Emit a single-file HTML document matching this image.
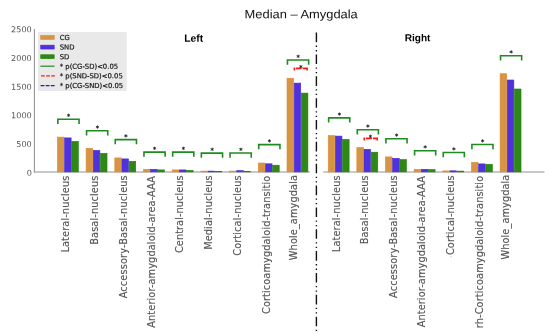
<!DOCTYPE html>
<html lang="en"><head><meta charset="utf-8"><title>Median – Amygdala</title>
<style>html,body{margin:0;padding:0;background:#fff}body{width:550px;height:334px;overflow:hidden}svg{display:block}text{white-space:pre}</style>
</head><body>
<svg width="550" height="334" viewBox="0 0 550 334">
<rect width="550" height="334" fill="#fff"/>
<text x="244.6" y="18.3" transform="rotate(0.03 244.6 18.3)" textLength="113.2" lengthAdjust="spacingAndGlyphs" font-family='"Liberation Sans","DejaVu Sans",sans-serif' font-size="12" fill="#111">Median – Amygdala</text>
<text x="193.7" y="41.7" transform="rotate(0.03 193.7 41.7)" text-anchor="middle" font-family='"Liberation Sans","DejaVu Sans",sans-serif' font-size="10.4" font-weight="bold" fill="#000">Left</text>
<text x="417.6" y="41.35" transform="rotate(0.03 417.6 41.35)" text-anchor="middle" font-family='"Liberation Sans","DejaVu Sans",sans-serif' font-size="10.1" font-weight="bold" fill="#000">Right</text>
<path d="M34.4 28.9V172.4" stroke="#929292" stroke-width="1.05" fill="none"/>
<path d="M33.9 171.9H309.8M323.3 171.9H544.5" stroke="#929292" stroke-width="1.05" fill="none"/>
<rect x="57.40" y="137.10" width="6.57" height="34.80" fill="#D79444" stroke="#DC8C30" stroke-width="0.6"/>
<rect x="64.57" y="137.90" width="6.57" height="34.00" fill="#5032DC" stroke="#4628D8" stroke-width="0.6"/>
<rect x="71.74" y="141.40" width="6.57" height="30.50" fill="#2E8716" stroke="#1E8208" stroke-width="0.6"/>
<rect x="86.10" y="148.30" width="6.57" height="23.60" fill="#D79444" stroke="#DC8C30" stroke-width="0.6"/>
<rect x="93.27" y="150.40" width="6.57" height="21.50" fill="#5032DC" stroke="#4628D8" stroke-width="0.6"/>
<rect x="100.44" y="153.30" width="6.57" height="18.60" fill="#2E8716" stroke="#1E8208" stroke-width="0.6"/>
<rect x="114.80" y="157.90" width="6.57" height="14.00" fill="#D79444" stroke="#DC8C30" stroke-width="0.6"/>
<rect x="121.97" y="158.90" width="6.57" height="13.00" fill="#5032DC" stroke="#4628D8" stroke-width="0.6"/>
<rect x="129.14" y="161.30" width="6.57" height="10.60" fill="#2E8716" stroke="#1E8208" stroke-width="0.6"/>
<rect x="143.50" y="169.30" width="6.57" height="2.60" fill="#D79444" stroke="#DC8C30" stroke-width="0.6"/>
<rect x="150.67" y="169.30" width="6.57" height="2.60" fill="#5032DC" stroke="#4628D8" stroke-width="0.6"/>
<rect x="157.84" y="169.90" width="6.57" height="2.00" fill="#2E8716" stroke="#1E8208" stroke-width="0.6"/>
<rect x="172.20" y="169.90" width="6.57" height="2.00" fill="#D79444" stroke="#DC8C30" stroke-width="0.6"/>
<rect x="179.37" y="169.90" width="6.57" height="2.00" fill="#5032DC" stroke="#4628D8" stroke-width="0.6"/>
<rect x="186.54" y="170.40" width="6.57" height="1.50" fill="#2E8716" stroke="#1E8208" stroke-width="0.6"/>
<rect x="200.90" y="171.10" width="6.57" height="0.80" fill="#D79444" stroke="#DC8C30" stroke-width="0.6"/>
<rect x="208.07" y="171.10" width="6.57" height="0.80" fill="#5032DC" stroke="#4628D8" stroke-width="0.6"/>
<rect x="215.24" y="171.30" width="6.57" height="0.60" fill="#2E8716" stroke="#1E8208" stroke-width="0.6"/>
<rect x="229.60" y="171.10" width="6.57" height="0.80" fill="#D79444" stroke="#DC8C30" stroke-width="0.6"/>
<rect x="236.77" y="170.60" width="6.57" height="1.30" fill="#5032DC" stroke="#4628D8" stroke-width="0.6"/>
<rect x="243.94" y="171.30" width="6.57" height="0.60" fill="#2E8716" stroke="#1E8208" stroke-width="0.6"/>
<rect x="258.30" y="163.00" width="6.57" height="8.90" fill="#D79444" stroke="#DC8C30" stroke-width="0.6"/>
<rect x="265.47" y="163.80" width="6.57" height="8.10" fill="#5032DC" stroke="#4628D8" stroke-width="0.6"/>
<rect x="272.64" y="165.20" width="6.57" height="6.70" fill="#2E8716" stroke="#1E8208" stroke-width="0.6"/>
<rect x="287.00" y="78.20" width="6.57" height="93.70" fill="#D79444" stroke="#DC8C30" stroke-width="0.6"/>
<rect x="294.17" y="83.10" width="6.57" height="88.80" fill="#5032DC" stroke="#4628D8" stroke-width="0.6"/>
<rect x="301.34" y="93.10" width="6.57" height="78.80" fill="#2E8716" stroke="#1E8208" stroke-width="0.6"/>
<rect x="328.20" y="135.60" width="6.57" height="36.30" fill="#D79444" stroke="#DC8C30" stroke-width="0.6"/>
<rect x="335.37" y="136.10" width="6.57" height="35.80" fill="#5032DC" stroke="#4628D8" stroke-width="0.6"/>
<rect x="342.54" y="139.40" width="6.57" height="32.50" fill="#2E8716" stroke="#1E8208" stroke-width="0.6"/>
<rect x="356.85" y="147.50" width="6.57" height="24.40" fill="#D79444" stroke="#DC8C30" stroke-width="0.6"/>
<rect x="364.02" y="149.30" width="6.57" height="22.60" fill="#5032DC" stroke="#4628D8" stroke-width="0.6"/>
<rect x="371.19" y="152.20" width="6.57" height="19.70" fill="#2E8716" stroke="#1E8208" stroke-width="0.6"/>
<rect x="385.50" y="156.90" width="6.57" height="15.00" fill="#D79444" stroke="#DC8C30" stroke-width="0.6"/>
<rect x="392.67" y="158.30" width="6.57" height="13.60" fill="#5032DC" stroke="#4628D8" stroke-width="0.6"/>
<rect x="399.84" y="159.60" width="6.57" height="12.30" fill="#2E8716" stroke="#1E8208" stroke-width="0.6"/>
<rect x="414.15" y="169.30" width="6.57" height="2.60" fill="#D79444" stroke="#DC8C30" stroke-width="0.6"/>
<rect x="421.32" y="169.30" width="6.57" height="2.60" fill="#5032DC" stroke="#4628D8" stroke-width="0.6"/>
<rect x="428.49" y="169.60" width="6.57" height="2.30" fill="#2E8716" stroke="#1E8208" stroke-width="0.6"/>
<rect x="442.80" y="170.90" width="6.57" height="1.00" fill="#D79444" stroke="#DC8C30" stroke-width="0.6"/>
<rect x="449.97" y="170.80" width="6.57" height="1.10" fill="#5032DC" stroke="#4628D8" stroke-width="0.6"/>
<rect x="457.14" y="171.10" width="6.57" height="0.80" fill="#2E8716" stroke="#1E8208" stroke-width="0.6"/>
<rect x="471.45" y="162.30" width="6.57" height="9.60" fill="#D79444" stroke="#DC8C30" stroke-width="0.6"/>
<rect x="478.62" y="163.90" width="6.57" height="8.00" fill="#5032DC" stroke="#4628D8" stroke-width="0.6"/>
<rect x="485.79" y="164.30" width="6.57" height="7.60" fill="#2E8716" stroke="#1E8208" stroke-width="0.6"/>
<rect x="500.10" y="73.70" width="6.57" height="98.20" fill="#D79444" stroke="#DC8C30" stroke-width="0.6"/>
<rect x="507.27" y="80.00" width="6.57" height="91.90" fill="#5032DC" stroke="#4628D8" stroke-width="0.6"/>
<rect x="514.44" y="89.00" width="6.57" height="82.90" fill="#2E8716" stroke="#1E8208" stroke-width="0.6"/>
<text x="31.8" y="175.70" transform="rotate(0.03 31.8 175.70)" text-anchor="end" font-family='"DejaVu Sans","Liberation Sans",sans-serif' font-size="8.15" fill="#555555">0</text>
<text x="31.8" y="147.10" transform="rotate(0.03 31.8 147.10)" text-anchor="end" font-family='"DejaVu Sans","Liberation Sans",sans-serif' font-size="8.15" fill="#555555">500</text>
<text x="31.8" y="118.30" transform="rotate(0.03 31.8 118.30)" text-anchor="end" font-family='"DejaVu Sans","Liberation Sans",sans-serif' font-size="8.15" fill="#555555">1000</text>
<text x="31.8" y="89.70" transform="rotate(0.03 31.8 89.70)" text-anchor="end" font-family='"DejaVu Sans","Liberation Sans",sans-serif' font-size="8.15" fill="#555555">1500</text>
<text x="31.8" y="61.00" transform="rotate(0.03 31.8 61.00)" text-anchor="end" font-family='"DejaVu Sans","Liberation Sans",sans-serif' font-size="8.15" fill="#555555">2000</text>
<text x="31.8" y="32.30" transform="rotate(0.03 31.8 32.30)" text-anchor="end" font-family='"DejaVu Sans","Liberation Sans",sans-serif' font-size="8.15" fill="#555555">2500</text>
<path d="M57.85 123.90V119.20H79.05V123.90" stroke="#1E8C1E" stroke-width="1.60" fill="none"/>
<text x="68.60" y="118.89" transform="rotate(0.03 68.60 118.89)" text-anchor="middle" font-family='"DejaVu Sans","Liberation Sans",sans-serif' font-size="6.6" fill="#1e1e1e" stroke="#1e1e1e" stroke-width="0.3">*</text>
<path d="M86.55 135.50V130.80H107.75V135.50" stroke="#1E8C1E" stroke-width="1.60" fill="none"/>
<text x="97.30" y="130.49" transform="rotate(0.03 97.30 130.49)" text-anchor="middle" font-family='"DejaVu Sans","Liberation Sans",sans-serif' font-size="6.6" fill="#1e1e1e" stroke="#1e1e1e" stroke-width="0.3">*</text>
<path d="M115.25 144.30V139.60H136.45V144.30" stroke="#1E8C1E" stroke-width="1.60" fill="none"/>
<text x="126.00" y="139.29" transform="rotate(0.03 126.00 139.29)" text-anchor="middle" font-family='"DejaVu Sans","Liberation Sans",sans-serif' font-size="6.6" fill="#1e1e1e" stroke="#1e1e1e" stroke-width="0.3">*</text>
<path d="M143.95 156.80V152.10H165.15V156.80" stroke="#1E8C1E" stroke-width="1.60" fill="none"/>
<text x="154.70" y="151.79" transform="rotate(0.03 154.70 151.79)" text-anchor="middle" font-family='"DejaVu Sans","Liberation Sans",sans-serif' font-size="6.6" fill="#1e1e1e" stroke="#1e1e1e" stroke-width="0.3">*</text>
<path d="M172.65 156.80V152.10H193.85V156.80" stroke="#1E8C1E" stroke-width="1.60" fill="none"/>
<text x="183.40" y="151.79" transform="rotate(0.03 183.40 151.79)" text-anchor="middle" font-family='"DejaVu Sans","Liberation Sans",sans-serif' font-size="6.6" fill="#1e1e1e" stroke="#1e1e1e" stroke-width="0.3">*</text>
<path d="M201.35 157.80V153.10H222.55V157.80" stroke="#1E8C1E" stroke-width="1.60" fill="none"/>
<text x="212.10" y="152.79" transform="rotate(0.03 212.10 152.79)" text-anchor="middle" font-family='"DejaVu Sans","Liberation Sans",sans-serif' font-size="6.6" fill="#1e1e1e" stroke="#1e1e1e" stroke-width="0.3">*</text>
<path d="M230.05 157.70V153.00H251.25V157.70" stroke="#1E8C1E" stroke-width="1.60" fill="none"/>
<text x="240.80" y="152.69" transform="rotate(0.03 240.80 152.69)" text-anchor="middle" font-family='"DejaVu Sans","Liberation Sans",sans-serif' font-size="6.6" fill="#1e1e1e" stroke="#1e1e1e" stroke-width="0.3">*</text>
<path d="M258.75 149.30V144.60H279.95V149.30" stroke="#1E8C1E" stroke-width="1.60" fill="none"/>
<text x="269.50" y="144.29" transform="rotate(0.03 269.50 144.29)" text-anchor="middle" font-family='"DejaVu Sans","Liberation Sans",sans-serif' font-size="6.6" fill="#1e1e1e" stroke="#1e1e1e" stroke-width="0.3">*</text>
<path d="M287.45 64.70V60.00H308.65V64.70" stroke="#1E8C1E" stroke-width="1.60" fill="none"/>
<text x="298.20" y="59.69" transform="rotate(0.03 298.20 59.69)" text-anchor="middle" font-family='"DejaVu Sans","Liberation Sans",sans-serif' font-size="6.6" fill="#1e1e1e" stroke="#1e1e1e" stroke-width="0.3">*</text>
<path d="M328.65 122.60V117.90H349.75V122.60" stroke="#1E8C1E" stroke-width="1.60" fill="none"/>
<text x="339.30" y="117.59" transform="rotate(0.03 339.30 117.59)" text-anchor="middle" font-family='"DejaVu Sans","Liberation Sans",sans-serif' font-size="6.6" fill="#1e1e1e" stroke="#1e1e1e" stroke-width="0.3">*</text>
<path d="M357.30 134.50V129.80H378.40V134.50" stroke="#1E8C1E" stroke-width="1.60" fill="none"/>
<text x="367.95" y="129.49" transform="rotate(0.03 367.95 129.49)" text-anchor="middle" font-family='"DejaVu Sans","Liberation Sans",sans-serif' font-size="6.6" fill="#1e1e1e" stroke="#1e1e1e" stroke-width="0.3">*</text>
<path d="M385.95 143.50V138.80H407.05V143.50" stroke="#1E8C1E" stroke-width="1.60" fill="none"/>
<text x="396.60" y="138.49" transform="rotate(0.03 396.60 138.49)" text-anchor="middle" font-family='"DejaVu Sans","Liberation Sans",sans-serif' font-size="6.6" fill="#1e1e1e" stroke="#1e1e1e" stroke-width="0.3">*</text>
<path d="M414.60 155.40V150.70H435.70V155.40" stroke="#1E8C1E" stroke-width="1.60" fill="none"/>
<text x="425.25" y="150.39" transform="rotate(0.03 425.25 150.39)" text-anchor="middle" font-family='"DejaVu Sans","Liberation Sans",sans-serif' font-size="6.6" fill="#1e1e1e" stroke="#1e1e1e" stroke-width="0.3">*</text>
<path d="M443.25 157.20V152.50H464.35V157.20" stroke="#1E8C1E" stroke-width="1.60" fill="none"/>
<text x="453.90" y="152.19" transform="rotate(0.03 453.90 152.19)" text-anchor="middle" font-family='"DejaVu Sans","Liberation Sans",sans-serif' font-size="6.6" fill="#1e1e1e" stroke="#1e1e1e" stroke-width="0.3">*</text>
<path d="M471.90 149.20V144.50H493.00V149.20" stroke="#1E8C1E" stroke-width="1.60" fill="none"/>
<text x="482.55" y="144.19" transform="rotate(0.03 482.55 144.19)" text-anchor="middle" font-family='"DejaVu Sans","Liberation Sans",sans-serif' font-size="6.6" fill="#1e1e1e" stroke="#1e1e1e" stroke-width="0.3">*</text>
<path d="M500.55 60.40V55.70H521.65V60.40" stroke="#1E8C1E" stroke-width="1.60" fill="none"/>
<text x="511.20" y="55.39" transform="rotate(0.03 511.20 55.39)" text-anchor="middle" font-family='"DejaVu Sans","Liberation Sans",sans-serif' font-size="6.6" fill="#1e1e1e" stroke="#1e1e1e" stroke-width="0.3">*</text>
<path d="M294.40 70.60V68.40H307.10V70.60" stroke="#FF1818" stroke-width="1.60" fill="none" stroke-dasharray="2.8 0.8 5.8 1 10"/>
<text x="300.80" y="69.99" transform="rotate(0.03 300.80 69.99)" text-anchor="middle" font-family='"DejaVu Sans","Liberation Sans",sans-serif' font-size="6.6" fill="#1e1e1e" stroke="#1e1e1e" stroke-width="0.3">*</text>
<path d="M364.30 140.40V138.40H377.20V140.40" stroke="#FF1818" stroke-width="1.60" fill="none" stroke-dasharray="2.8 0.8 6 1 10"/>
<text x="370.50" y="139.69" transform="rotate(0.03 370.50 139.69)" text-anchor="middle" font-family='"DejaVu Sans","Liberation Sans",sans-serif' font-size="6.6" fill="#1e1e1e" stroke="#1e1e1e" stroke-width="0.3">*</text>
<path d="M316.4 32.6V331" stroke="#111" stroke-width="1.4" fill="none" stroke-dasharray="9.6 3.4 1.3 3.2 1.3 3.05"/>
<text transform="translate(69.20 252.57) rotate(-90)" textLength="76.92" lengthAdjust="spacing" font-family='"DejaVu Sans","Liberation Sans",sans-serif' font-size="9.80" fill="#555555" stroke="#555555" stroke-width="0.15">Lateral-nucleus</text>
<text transform="translate(98.00 244.77) rotate(-90)" textLength="69.12" lengthAdjust="spacing" font-family='"DejaVu Sans","Liberation Sans",sans-serif' font-size="9.80" fill="#555555" stroke="#555555" stroke-width="0.15">Basal-nucleus</text>
<text transform="translate(127.10 298.29) rotate(-90)" textLength="123.03" lengthAdjust="spacing" font-family='"DejaVu Sans","Liberation Sans",sans-serif' font-size="9.80" fill="#555555" stroke="#555555" stroke-width="0.15">Accessory-Basal-nucleus</text>
<text transform="translate(155.30 327.72) rotate(-90)" textLength="151.63" lengthAdjust="spacing" font-family='"DejaVu Sans","Liberation Sans",sans-serif' font-size="9.80" fill="#555555" stroke="#555555" stroke-width="0.15">Anterior-amygdaloid-area-AAA</text>
<text transform="translate(182.70 253.04) rotate(-90)" textLength="77.69" lengthAdjust="spacing" font-family='"DejaVu Sans","Liberation Sans",sans-serif' font-size="9.80" fill="#555555" stroke="#555555" stroke-width="0.15">Central-nucleus</text>
<text transform="translate(211.90 249.77) rotate(-90)" textLength="74.43" lengthAdjust="spacing" font-family='"DejaVu Sans","Liberation Sans",sans-serif' font-size="9.80" fill="#555555" stroke="#555555" stroke-width="0.15">Medial-nucleus</text>
<text transform="translate(241.20 255.81) rotate(-90)" textLength="80.47" lengthAdjust="spacing" font-family='"DejaVu Sans","Liberation Sans",sans-serif' font-size="9.80" fill="#555555" stroke="#555555" stroke-width="0.15">Cortical-nucleus</text>
<text transform="translate(269.60 314.01) rotate(-90)" textLength="138.20" lengthAdjust="spacing" font-family='"DejaVu Sans","Liberation Sans",sans-serif' font-size="9.80" fill="#555555" stroke="#555555" stroke-width="0.15">Corticoamygdaloid-transitio</text>
<text transform="translate(296.90 260.17) rotate(-90)" textLength="85.17" lengthAdjust="spacing" font-family='"DejaVu Sans","Liberation Sans",sans-serif' font-size="9.80" fill="#555555" stroke="#555555" stroke-width="0.15">Whole_amygdala</text>
<text transform="translate(339.50 252.16) rotate(-90)" textLength="76.81" lengthAdjust="spacing" font-family='"DejaVu Sans","Liberation Sans",sans-serif' font-size="9.80" fill="#555555" stroke="#555555" stroke-width="0.15">Lateral-nucleus</text>
<text transform="translate(367.90 244.34) rotate(-90)" textLength="68.99" lengthAdjust="spacing" font-family='"DejaVu Sans","Liberation Sans",sans-serif' font-size="9.80" fill="#555555" stroke="#555555" stroke-width="0.15">Basal-nucleus</text>
<text transform="translate(396.80 297.94) rotate(-90)" textLength="122.59" lengthAdjust="spacing" font-family='"DejaVu Sans","Liberation Sans",sans-serif' font-size="9.80" fill="#555555" stroke="#555555" stroke-width="0.15">Accessory-Basal-nucleus</text>
<text transform="translate(425.20 327.27) rotate(-90)" textLength="151.19" lengthAdjust="spacing" font-family='"DejaVu Sans","Liberation Sans",sans-serif' font-size="9.80" fill="#555555" stroke="#555555" stroke-width="0.15">Anterior-amygdaloid-area-AAA</text>
<text transform="translate(454.10 255.04) rotate(-90)" textLength="79.69" lengthAdjust="spacing" font-family='"DejaVu Sans","Liberation Sans",sans-serif' font-size="9.80" fill="#555555" stroke="#555555" stroke-width="0.15">Cortical-nucleus</text>
<text transform="translate(482.80 328.22) rotate(-90)" textLength="152.41" lengthAdjust="spacing" font-family='"DejaVu Sans","Liberation Sans",sans-serif' font-size="9.80" fill="#555555" stroke="#555555" stroke-width="0.15">rh-Corticoamygdaloid-transitio</text>
<text transform="translate(509.30 259.50) rotate(-90)" textLength="84.88" lengthAdjust="spacing" font-family='"DejaVu Sans","Liberation Sans",sans-serif' font-size="9.80" fill="#555555" stroke="#555555" stroke-width="0.15">Whole_amygdala</text>
<circle cx="451" cy="256.8" r="0.55" fill="#9a9a9a"/>
<rect x="37.9" y="32.1" width="88.8" height="59" rx="0.8" fill="#e9e9e9"/>
<rect x="40.7" y="35.45" width="13.5" height="3.9" fill="#D79444" stroke="#DC8C30" stroke-width="0.6"/>
<rect x="40.7" y="45.15" width="13.5" height="3.9" fill="#5032DC" stroke="#4628D8" stroke-width="0.6"/>
<rect x="40.7" y="54.75" width="13.5" height="3.9" fill="#2E8716" stroke="#1E8208" stroke-width="0.6"/>
<path d="M40.4 66.20H54.5" stroke="#1E8C1E" stroke-width="1.2" fill="none"/>
<path d="M41.0 75.80H54.9" stroke="#FF2020" stroke-width="1.3" fill="none" stroke-dasharray="3.8 1.3"/>
<path d="M40.6 85.60H54.9" stroke="#1414FF" stroke-width="1.3" fill="none" stroke-dasharray="3.8 1.3"/>
<text x="59.7" y="39.90" transform="rotate(0.03 59.7 39.90)" font-family='"DejaVu Sans","Liberation Sans",sans-serif' font-size="6.85" fill="#111" stroke="#111" stroke-width="0.18">CG</text>
<text x="59.7" y="49.60" transform="rotate(0.03 59.7 49.60)" font-family='"DejaVu Sans","Liberation Sans",sans-serif' font-size="6.85" fill="#111" stroke="#111" stroke-width="0.18">SND</text>
<text x="59.7" y="59.20" transform="rotate(0.03 59.7 59.20)" font-family='"DejaVu Sans","Liberation Sans",sans-serif' font-size="6.85" fill="#111" stroke="#111" stroke-width="0.18">SD</text>
<text x="59.7" y="68.70" transform="rotate(0.03 59.7 68.70)" font-family='"DejaVu Sans","Liberation Sans",sans-serif' font-size="6.85" fill="#111" stroke="#111" stroke-width="0.18">* p(CG-SD)&lt;0.05</text>
<text x="59.7" y="78.30" transform="rotate(0.03 59.7 78.30)" font-family='"DejaVu Sans","Liberation Sans",sans-serif' font-size="6.85" fill="#111" stroke="#111" stroke-width="0.18">* p(SND-SD)&lt;0.05</text>
<text x="59.7" y="88.10" transform="rotate(0.03 59.7 88.10)" font-family='"DejaVu Sans","Liberation Sans",sans-serif' font-size="6.85" fill="#111" stroke="#111" stroke-width="0.18">* p(CG-SND)&lt;0.05</text>
</svg>
</body></html>
